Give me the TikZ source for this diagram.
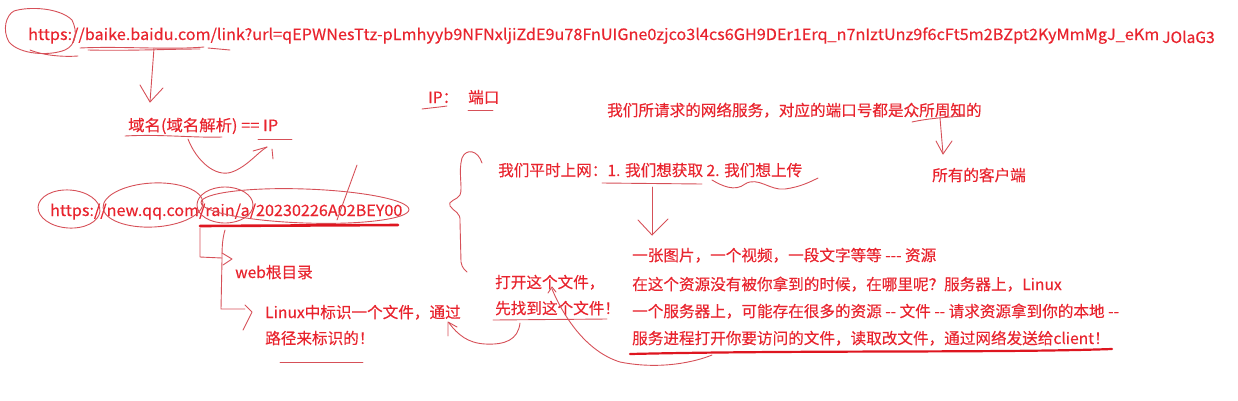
\documentclass[tikz,border=0pt]{standalone}
\usepackage{fontspec}
\setmainfont{Noto Sans CJK SC}[FakeBold=0.35]
\definecolor{txtred}{RGB}{232,36,46}
\definecolor{penred}{RGB}{214,80,88}
\definecolor{boldred}{RGB}{222,22,32}
\tikzset{
  lbl/.style={anchor=base west, inner sep=0pt, text=txtred, font=\fontsize{15.6}{18}\selectfont},
  pen/.style={draw=penred, line width=0.9pt, line cap=round, line join=round},
  boldpen/.style={draw=boldred, line width=2.6pt, line cap=round},
}
\begin{document}
\begin{tikzpicture}[x=1pt,y=-1pt]
\useasboundingbox (0,0) rectangle (1238,400);
% texts
\node[lbl] (url1) at (28,40) {\scalebox{1.04}[1]{https://baike.baidu.com/link?url=qEPWNesTtz-pLmhyyb9NFNxljiZdE9u78FnUIGne0zjco3l4cs6GH9DEr1Erq\_n7nIztUnz9f6cFt5m2BZpt2KyMmMgJ\_eKm}};
\node[lbl] (url1b) at (1162,43) {JOlaG3};
\node[lbl] (dns) at (128,131) {\scalebox{1.05}[1]{域名(域名解析) == IP}};
\node[lbl] (ip) at (428,103) {IP：};
\node[lbl] (port) at (468,103) {端口};
\node[lbl] (svc) at (607,116) {我们所请求的网络服务，对应的端口号都是众所周知的};
\node[lbl] (clients) at (932,181) {所有的客户端};
\node[lbl] (net) at (498,176) {我们平时上网：1. 我们想获取 2. 我们想上传};
\node[lbl] (url2) at (50,216) {\scalebox{1.037}[1]{https://new.qq.com/rain/a/20230226A02BEY00}};
\node[lbl] (webroot) at (235,278) {web根目录};
\node[lbl] (linux1) at (265,318) {Linux中标识一个文件，通过};
\node[lbl] (linux2) at (265,344) {路径来标识的！};
\node[lbl] (open1) at (495,288) {打开这个文件，};
\node[lbl] (open2) at (495,314) {先找到这个文件！};
\node[lbl] (res1) at (632,261) {一张图片，一个视频，一段文字等等 -{}-{}- 资源};
\node[lbl] (res2) at (632,290) {在这个资源没有被你拿到的时候，在哪里呢？服务器上，Linux};
\node[lbl] (res3) at (632,317) {一个服务器上，可能存在很多的资源 -{}- 文件 -{}- 请求资源拿到你的本地 -{}-};
\node[lbl] (res4) at (632,344) {服务进程打开你要访问的文件，读取改文件，通过网络发送给client！};
% circle around https (top)
\draw[pen] (72,20) .. controls (78,32) and (76,45) .. (65,50)
  .. controls (50,56) and (20,55) .. (9,42)
  .. controls (2,30) and (6,15) .. (14,11)
  .. controls (30,6) and (60,8) .. (72,20);
\draw[pen] (30,50) .. controls (45,56) and (65,57) .. (78,56);
% underline baidu
\draw[pen] (80,48) .. controls (120,46) and (170,50) .. (204,47);
\draw[pen] (88,50) .. controls (130,51) and (170,49) .. (200,49);
\draw[pen] (208,48) -- (230,50);
% arrow down to dns
\coordinate (a1s) at (154,48);
\coordinate (a1e) at (150,102);
\draw[pen] (a1s) -- (a1e);
\draw[pen] (140,85) -- (a1e) -- (163,88);
% dns underlines and curve
\draw[pen] (125,136) .. controls (160,134) and (195,138) .. (222,137);
\draw[pen] (258,139) -- (292,139);
\draw[pen] (188,139) .. controls (196,160) and (215,178) .. (232,172)
  .. controls (248,166) and (258,152) .. (267,147);
\draw[pen] (253,151) -- (267,147);
\draw[pen] (272,149) -- (273,159);
% IP port underlines
\draw[pen] (422,109) .. controls (430,108) and (440,107) .. (447,106);
\draw[pen] (468,110) -- (493,110);
% svc -> clients
\draw[pen] (912,122) .. controls (930,118) and (950,117) .. (965,116);
\coordinate (a2e) at (943,154);
\draw[pen] (940,118) -- (a2e);
\draw[pen] (936,141) -- (a2e) -- (952,141);
% brace
\draw[pen] (482,163) .. controls (478,150) and (466,148) .. (462,158)
  .. controls (458,172) and (463,188) .. (460,195)
  .. controls (457,200) and (447,201) .. (450,206)
  .. controls (454,212) and (461,212) .. (460,222)
  -- (461,262) .. controls (462,268) and (465,270) .. (467,272);
% net underlines & arrow
\draw[pen] (602,183) -- (702,184);
\draw[pen] (712,180) .. controls (722,186) and (735,192) .. (745,184)
  .. controls (758,176) and (770,191) .. (785,189)
  .. controls (800,187) and (810,182) .. (818,178);
\coordinate (a3e) at (652,235);
\draw[pen] (652,187) -- (a3e);
\draw[pen] (638,220) -- (a3e) -- (668,219);
% url2 ellipses
\draw[pen, rotate around={-4:(69,209)}] (69,209) ellipse [x radius=31, y radius=19];
\draw[pen, rotate around={3:(153,205)}] (153,205) ellipse [x radius=50, y radius=22];
\draw[pen] (225,205) ellipse [x radius=28, y radius=18];
\draw[pen, rotate around={-2:(305,206)}] (305,206) ellipse [x radius=104, y radius=17];
\draw[boldpen] (200,226) -- (398,225);
\draw[pen] (337,220) -- (357,165);
% brackets to web root and linux
\draw[pen] (200,228) -- (200,257) -- (222,258);
\draw[pen] (222,253) -- (232,259) -- (223,265);
\draw[pen] (225,230) .. controls (222,240) and (222,250) .. (222,260) -- (221,309) -- (245,309);
\draw[pen] (245,305) -- (252,312) -- (243,330);
% underlines
\draw[pen] (280,362) -- (363,362);
\draw[pen] (493,320) -- (607,319);
% curve from open2 to linux1
\draw[pen] (520,323) .. controls (518,340) and (505,345) .. (485,344)
  .. controls (468,343) and (458,335) .. (449,323);
\draw[pen] (448,336) -- (448,322) -- (457,327);
% curve from open1 to underline
\draw[pen] (548,293) -- (552,287) -- (556,292);
\draw[pen] (552,289) .. controls (565,320) and (588,352) .. (620,362)
  .. controls (660,370) and (695,362) .. (712,355);
\draw[boldpen, line width=2.2pt] (630,354) .. controls (800,350) and (1000,353) .. (1112,349);
\end{tikzpicture}
\end{document}
